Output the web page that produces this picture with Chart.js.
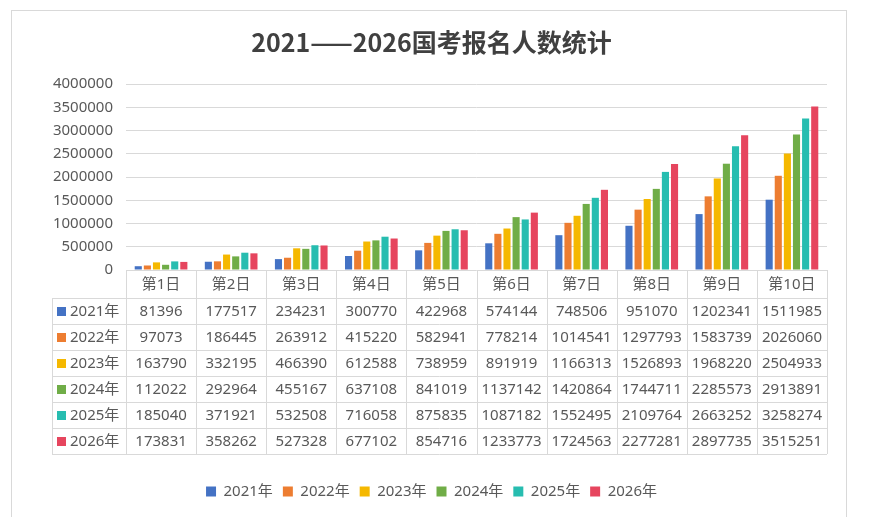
<!DOCTYPE html>
<html>
<head>
<meta charset="utf-8">
<script src="https://cdn.jsdelivr.net/npm/chart.js@4.4.0/dist/chart.umd.min.js"></script>
<style>
html,body{margin:0;padding:0;background:#fff;}
#wrap{width:876px;height:517px;position:relative;}
</style>
</head>
<body>
<div id="wrap"><canvas id="c" width="876" height="517"></canvas></div>
<script>
const categories = ['第1日','第2日','第3日','第4日','第5日','第6日','第7日','第8日','第9日','第10日'];
const seriesNames = ['2021年','2022年','2023年','2024年','2025年','2026年'];
const s2021 = [81396,177517,234231,300770,422968,574144,748506,951070,1202341,1511985];
const s2022 = [97073,186445,263912,415220,582941,778214,1014541,1297793,1583739,2026060];
const s2023 = [163790,332195,466390,612588,738959,891919,1166313,1526893,1968220,2504933];
const s2024 = [112022,292964,455167,637108,841019,1137142,1420864,1744711,2285573,2913891];
const s2025 = [185040,371921,532508,716058,875835,1087182,1552495,2109764,2663252,3258274];
const s2026 = [173831,358262,527328,677102,854716,1233773,1724563,2277281,2897735,3515251];
const colors = ['#4472C4','#ED7D31','#F5B800','#70AD47','#27BDB0','#E6455E'];
const allSeries = [s2021,s2022,s2023,s2024,s2025,s2026];

const TXT = '#595959';
const GRID = '#d9d9d9';
const FONT = "'Noto Sans','Noto Sans CJK SC',sans-serif";
const CAT_ROW_H = 28;
const ROW_H = 26;
const HEADER_LEFT = 52;

const tablePlugin = {
  id: 'tablePlugin',
  beforeDraw(chart) {
    const ctx = chart.ctx;
    ctx.save();
    ctx.fillStyle = '#fff';
    ctx.fillRect(0,0,chart.width,chart.height);
    ctx.strokeStyle = GRID;
    ctx.lineWidth = 1;
    ctx.strokeRect(11.5, 10.5, 835, 530);
    ctx.restore();
  },
  afterDraw(chart) {
    const ctx = chart.ctx;
    const xs = chart.scales.x;
    const area = chart.chartArea;
    const n = categories.length;
    const colW = (area.right - area.left) / n;
    const top = area.bottom;
    const rowsTop = top + CAT_ROW_H;
    const bottom = rowsTop + ROW_H * allSeries.length;
    ctx.save();
    ctx.strokeStyle = GRID;
    ctx.lineWidth = 1;
    ctx.beginPath();
    for (let i = 0; i <= n; i++) {
      const x = Math.round(area.left + colW * i) + 0.5;
      ctx.moveTo(x, top); ctx.lineTo(x, bottom);
    }
    ctx.moveTo(HEADER_LEFT + 0.5, rowsTop); ctx.lineTo(HEADER_LEFT + 0.5, bottom);
    for (let r = 0; r <= allSeries.length; r++) {
      const y = Math.round(rowsTop + ROW_H * r) + 0.5;
      ctx.moveTo(HEADER_LEFT, y); ctx.lineTo(area.right, y);
    }
    ctx.stroke();

    ctx.fillStyle = TXT;
    ctx.font = "15px " + FONT;
    ctx.textAlign = 'center';
    ctx.textBaseline = 'middle';
    categories.forEach((c, i) => {
      ctx.fillText(c, xs.getPixelForValue(i), top + CAT_ROW_H / 2 + 1);
    });
    allSeries.forEach((s, r) => {
      const cy = rowsTop + ROW_H * r + ROW_H / 2 + 1;
      ctx.fillStyle = colors[r];
      ctx.fillRect(57, Math.round(cy - 5), 9, 9);
      ctx.fillStyle = TXT;
      ctx.textAlign = 'left';
      ctx.fillText(seriesNames[r], 70, cy);
      ctx.textAlign = 'center';
      s.forEach((v, i) => {
        ctx.fillText(String(v), xs.getPixelForValue(i), cy);
      });
    });
    ctx.restore();
  }
};

new Chart(document.getElementById('c'), {
  type: 'bar',
  data: {
    labels: categories,
    datasets: allSeries.map((s, i) => ({
      label: seriesNames[i],
      data: s,
      backgroundColor: colors[i],
      borderWidth: 0,
      categoryPercentage: 0.78,
      barPercentage: 0.78
    }))
  },
  options: {
    responsive: false,
    animation: false,
    layout: { padding: { left: 36, right: 49, top: 0, bottom: 8 } },
    plugins: {
      title: {
        display: true,
        text: '2021——2026国考报名人数统计',
        color: '#404040',
        font: { family: "'Noto Sans CJK SC',sans-serif", size: 25, weight: 'bold' },
        padding: { top: 27, bottom: 27 }
      },
      legend: {
        position: 'bottom',
        labels: {
          boxWidth: 10, boxHeight: 10, color: TXT, padding: 10,
          font: { family: FONT, size: 15 }
        }
      },
      tooltip: { enabled: false }
    },
    scales: {
      x: {
        grid: { display: false },
        border: { display: false },
        ticks: { display: false },
        afterFit(scale) { scale.height = 204; }
      },
      y: {
        min: 0, max: 4000000,
        ticks: {
          stepSize: 500000, color: TXT, padding: 13, font: { family: FONT, size: 15 },
          callback: (v) => String(v)
        },
        grid: { color: GRID, drawTicks: false },
        border: { display: false },
        afterFit(scale) { scale.width = 90; }
      }
    }
  },
  plugins: [tablePlugin]
});
</script>
</body>
</html>
